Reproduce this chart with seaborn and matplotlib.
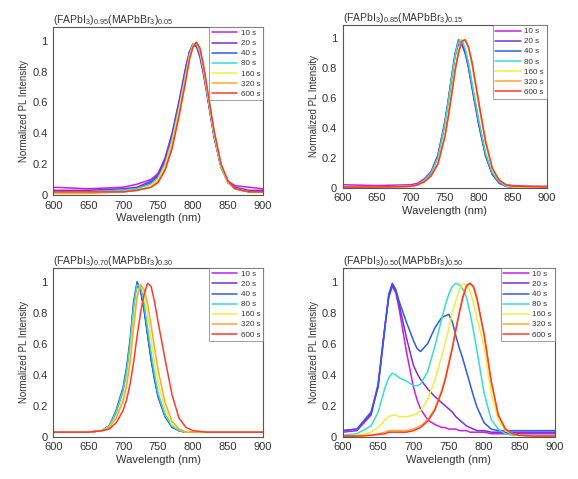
import matplotlib.pyplot as plt
import numpy as np
import pandas as pd
import seaborn as sns

# ---- data (normalized PL vs wavelength) ----
times = ["10 s", "20 s", "40 s", "80 s", "160 s", "320 s", "600 s"]
colors = ["#c81ee6", "#7a2fd8", "#2b5cf0", "#33e0c8", "#eef03c", "#ffa533", "#ff3a2a"]

titles = [
    r"(FAPbI$_3$)$_{0.95}$(MAPbBr$_3$)$_{0.05}$",
    r"(FAPbI$_3$)$_{0.85}$(MAPbBr$_3$)$_{0.15}$",
    r"(FAPbI$_3$)$_{0.70}$(MAPbBr$_3$)$_{0.30}$",
    r"(FAPbI$_3$)$_{0.50}$(MAPbBr$_3$)$_{0.50}$",
]

# panel 1: x0.05
wl_1 = [600, 650, 700, 720, 740, 750, 760, 770, 780, 790, 795, 800, 805, 810, 815, 820, 830, 840, 850, 860, 880, 900]
p1_10s = [0.05, 0.04, 0.05, 0.07, 0.10, 0.14, 0.24, 0.40, 0.61, 0.84, 0.93, 0.97, 0.96, 0.89, 0.78, 0.65, 0.38, 0.19, 0.09, 0.06, 0.05, 0.04]
p1_20s = [0.03, 0.03, 0.04, 0.05, 0.09, 0.13, 0.23, 0.39, 0.60, 0.83, 0.93, 0.98, 0.97, 0.90, 0.79, 0.66, 0.38, 0.18, 0.08, 0.05, 0.03, 0.03]
p1_40s = [0.02, 0.02, 0.03, 0.04, 0.08, 0.12, 0.21, 0.37, 0.58, 0.81, 0.92, 0.98, 0.98, 0.91, 0.80, 0.66, 0.38, 0.18, 0.08, 0.04, 0.02, 0.02]
p1_80s = [0.02, 0.02, 0.03, 0.04, 0.07, 0.11, 0.20, 0.36, 0.57, 0.80, 0.91, 0.98, 0.98, 0.92, 0.81, 0.67, 0.39, 0.18, 0.08, 0.04, 0.02, 0.02]
p1_160s = [0.02, 0.02, 0.02, 0.03, 0.06, 0.10, 0.19, 0.34, 0.55, 0.78, 0.90, 0.97, 0.99, 0.93, 0.82, 0.68, 0.40, 0.19, 0.08, 0.04, 0.02, 0.02]
p1_320s = [0.01, 0.01, 0.02, 0.03, 0.05, 0.09, 0.17, 0.32, 0.53, 0.77, 0.89, 0.97, 0.99, 0.94, 0.83, 0.69, 0.41, 0.20, 0.08, 0.04, 0.02, 0.02]
p1_600s = [0.02, 0.02, 0.02, 0.03, 0.05, 0.08, 0.16, 0.30, 0.51, 0.75, 0.88, 0.96, 0.99, 0.95, 0.84, 0.70, 0.42, 0.20, 0.09, 0.04, 0.02, 0.02]

# panel 2: x0.15
wl_2 = [600, 650, 700, 710, 720, 730, 740, 750, 755, 760, 765, 770, 775, 780, 785, 790, 800, 810, 820, 830, 840, 850, 870, 900]
p2_10s = [0.02, 0.015, 0.02, 0.03, 0.06, 0.11, 0.22, 0.44, 0.58, 0.74, 0.89, 0.98, 0.97, 0.91, 0.81, 0.68, 0.43, 0.22, 0.09, 0.04, 0.02, 0.015, 0.01, 0.01]
p2_20s = [0.005, 0.005, 0.01, 0.02, 0.05, 0.10, 0.21, 0.43, 0.57, 0.73, 0.88, 0.96, 0.96, 0.90, 0.80, 0.67, 0.42, 0.21, 0.09, 0.03, 0.01, 0.005, 0.005, 0.005]
p2_40s = [0.005, 0.005, 0.01, 0.02, 0.05, 0.10, 0.21, 0.43, 0.58, 0.74, 0.89, 0.99, 0.98, 0.92, 0.82, 0.69, 0.44, 0.22, 0.09, 0.04, 0.01, 0.005, 0.005, 0.005]
p2_80s = [0.005, 0.005, 0.01, 0.02, 0.05, 0.10, 0.20, 0.42, 0.57, 0.73, 0.88, 0.98, 0.99, 0.93, 0.83, 0.70, 0.45, 0.23, 0.10, 0.04, 0.01, 0.005, 0.005, 0.005]
p2_160s = [0.005, 0.005, 0.01, 0.02, 0.04, 0.08, 0.17, 0.36, 0.50, 0.65, 0.80, 0.92, 0.99, 0.99, 0.93, 0.82, 0.55, 0.29, 0.12, 0.05, 0.02, 0.005, 0.005, 0.005]
p2_320s = [0.005, 0.005, 0.01, 0.02, 0.04, 0.08, 0.16, 0.34, 0.47, 0.62, 0.78, 0.90, 0.98, 0.99, 0.94, 0.84, 0.57, 0.31, 0.13, 0.05, 0.02, 0.01, 0.005, 0.005]
p2_600s = [0.005, 0.005, 0.01, 0.02, 0.04, 0.08, 0.16, 0.34, 0.47, 0.62, 0.78, 0.90, 0.98, 0.99, 0.94, 0.84, 0.57, 0.31, 0.13, 0.05, 0.02, 0.01, 0.01, 0.005]

# panel 3: x0.30
wl_3 = [600, 650, 670, 680, 690, 700, 705, 710, 715, 720, 725, 730, 735, 740, 745, 750, 760, 770, 780, 790, 800, 820, 850, 900]
p3_10s = [0.03, 0.03, 0.04, 0.07, 0.16, 0.30, 0.42, 0.60, 0.84, 0.99, 0.95, 0.83, 0.67, 0.51, 0.38, 0.27, 0.14, 0.07, 0.04, 0.03, 0.03, 0.03, 0.03, 0.03]
p3_20s = [0.03, 0.03, 0.04, 0.07, 0.16, 0.31, 0.43, 0.61, 0.85, 0.98, 0.94, 0.82, 0.66, 0.50, 0.37, 0.26, 0.13, 0.07, 0.04, 0.03, 0.03, 0.03, 0.03, 0.03]
p3_40s = [0.03, 0.03, 0.04, 0.07, 0.17, 0.32, 0.45, 0.63, 0.87, 1.00, 0.95, 0.82, 0.66, 0.50, 0.37, 0.26, 0.13, 0.06, 0.04, 0.03, 0.03, 0.03, 0.03, 0.03]
p3_80s = [0.03, 0.03, 0.04, 0.07, 0.16, 0.30, 0.42, 0.60, 0.84, 0.98, 0.97, 0.86, 0.70, 0.54, 0.40, 0.28, 0.14, 0.07, 0.04, 0.03, 0.03, 0.03, 0.03, 0.03]
p3_160s = [0.03, 0.03, 0.04, 0.06, 0.13, 0.25, 0.36, 0.52, 0.75, 0.93, 0.98, 0.93, 0.79, 0.63, 0.48, 0.35, 0.18, 0.08, 0.05, 0.03, 0.03, 0.03, 0.03, 0.03]
p3_320s = [0.03, 0.03, 0.04, 0.06, 0.12, 0.23, 0.33, 0.48, 0.70, 0.90, 0.98, 0.95, 0.86, 0.72, 0.57, 0.43, 0.22, 0.10, 0.05, 0.03, 0.03, 0.03, 0.03, 0.03]
p3_600s = [0.03, 0.03, 0.04, 0.05, 0.09, 0.17, 0.24, 0.34, 0.48, 0.65, 0.80, 0.92, 0.99, 0.97, 0.87, 0.74, 0.50, 0.27, 0.12, 0.06, 0.04, 0.03, 0.03, 0.03]

# panel 4: x0.50
wl_4 = [600, 620, 640, 650, 660, 665, 670, 675, 680, 690, 700, 705, 710, 720, 730, 740, 745,
        750, 755, 760, 765, 770, 775, 780, 785, 790, 800, 810, 820, 830, 840, 850, 870, 900]
p4_10s = [0.03, 0.04, 0.14, 0.33, 0.72, 0.90, 0.97, 0.93, 0.82, 0.55, 0.32, 0.24, 0.18, 0.11, 0.08, 0.06, 0.06,
          0.05, 0.05, 0.05, 0.04, 0.04, 0.04, 0.03, 0.03, 0.03, 0.03, 0.02, 0.02, 0.02, 0.02, 0.02, 0.02, 0.02]
p4_20s = [0.04, 0.05, 0.15, 0.34, 0.73, 0.90, 0.98, 0.94, 0.85, 0.64, 0.46, 0.41, 0.37, 0.31, 0.26, 0.22, 0.20,
          0.18, 0.16, 0.13, 0.11, 0.09, 0.07, 0.06, 0.05, 0.04, 0.04, 0.03, 0.03, 0.03, 0.03, 0.03, 0.03, 0.03]
p4_40s = [0.04, 0.05, 0.16, 0.32, 0.72, 0.92, 0.99, 0.95, 0.87, 0.74, 0.62, 0.57, 0.55, 0.60, 0.70, 0.77, 0.78,
          0.79, 0.74, 0.65, 0.57, 0.50, 0.42, 0.34, 0.26, 0.19, 0.09, 0.05, 0.04, 0.04, 0.04, 0.04, 0.04, 0.04]
p4_80s = [0.01, 0.02, 0.07, 0.16, 0.32, 0.38, 0.41, 0.40, 0.38, 0.36, 0.33, 0.33, 0.34, 0.42, 0.58, 0.76, 0.85,
          0.92, 0.97, 0.99, 0.98, 0.95, 0.90, 0.80, 0.68, 0.55, 0.28, 0.11, 0.05, 0.02, 0.01, 0.01, 0.01, 0.01]
p4_160s = [0.005, 0.01, 0.03, 0.06, 0.11, 0.13, 0.14, 0.14, 0.13, 0.13, 0.14, 0.15, 0.17, 0.24, 0.36, 0.52, 0.61,
           0.70, 0.80, 0.88, 0.95, 0.99, 0.98, 0.94, 0.86, 0.76, 0.58, 0.28, 0.11, 0.04, 0.02, 0.01, 0.005, 0.005]
p4_320s = [0.005, 0.005, 0.01, 0.02, 0.03, 0.04, 0.04, 0.04, 0.04, 0.04, 0.05, 0.06, 0.07, 0.11, 0.18, 0.30, 0.38,
           0.48, 0.58, 0.70, 0.81, 0.91, 0.98, 0.99, 0.96, 0.88, 0.65, 0.35, 0.14, 0.05, 0.02, 0.01, 0.005, 0.005]
p4_600s = [0.005, 0.005, 0.01, 0.015, 0.02, 0.03, 0.03, 0.03, 0.03, 0.03, 0.04, 0.05, 0.06, 0.10, 0.17, 0.29, 0.37,
           0.47, 0.57, 0.69, 0.80, 0.90, 0.97, 0.99, 0.97, 0.89, 0.66, 0.36, 0.14, 0.05, 0.02, 0.01, 0.005, 0.005]

panels = [
    (wl_1, [p1_10s, p1_20s, p1_40s, p1_80s, p1_160s, p1_320s, p1_600s]),
    (wl_2, [p2_10s, p2_20s, p2_40s, p2_80s, p2_160s, p2_320s, p2_600s]),
    (wl_3, [p3_10s, p3_20s, p3_40s, p3_80s, p3_160s, p3_320s, p3_600s]),
    (wl_4, [p4_10s, p4_20s, p4_40s, p4_80s, p4_160s, p4_320s, p4_600s]),
]

# axes rectangles in figure fractions (left, bottom, width, height)
rects = [
    (0.092, 0.593, 0.363, 0.351),
    (0.593, 0.608, 0.353, 0.340),
    (0.092, 0.088, 0.363, 0.353),
    (0.593, 0.088, 0.367, 0.353),
]

sns.set_theme(style="white")
plt.rcParams["font.family"] = ["Liberation Sans", "DejaVu Sans"]
plt.rcParams["mathtext.fontset"] = "custom"
plt.rcParams["mathtext.rm"] = "Liberation Sans"
plt.rcParams["mathtext.it"] = "Liberation Sans:italic"

text_color = "#333333"
fig = plt.figure(figsize=(5.78, 4.79), dpi=100)

for (wl, series), rect, title in zip(panels, rects, titles):
    rows = []
    for label, vals in zip(times, series):
        rows.append(pd.DataFrame({"wavelength": wl, "intensity": vals, "time": label}))
    df = pd.concat(rows, ignore_index=True)

    ax = fig.add_axes(rect)
    sns.lineplot(
        data=df,
        x="wavelength",
        y="intensity",
        hue="time",
        hue_order=times,
        palette=colors,
        estimator=None,
        sort=False,
        linewidth=1.1,
        ax=ax,
    )
    ax.set_xlim(600, 900)
    ax.set_ylim(0, 1.09)
    ax.set_xticks(np.arange(600, 901, 50))
    ax.set_yticks([0, 0.2, 0.4, 0.6, 0.8, 1.0])
    ax.set_yticklabels(["0", "0.2", "0.4", "0.6", "0.8", "1"])
    ax.tick_params(direction="in", length=2, width=0.6, labelsize=8,
                   colors=text_color)
    ax.tick_params(axis="x", pad=4)
    ax.tick_params(axis="y", pad=4)
    ax.set_xlabel("Wavelength (nm)", fontsize=8, color=text_color, labelpad=2)
    ax.set_ylabel("Normalized PL Intensity", fontsize=7, color=text_color, labelpad=2)
    ax.set_title(title, loc="left", fontsize=7.5, color=text_color, pad=3)
    for sp in ax.spines.values():
        sp.set_color("#555555")
        sp.set_linewidth(0.8)

    leg = ax.legend(
        loc="upper right",
        fontsize=5.8,
        frameon=True,
        fancybox=False,
        handlelength=3.2,
        handletextpad=0.4,
        labelspacing=0.3,
        borderpad=0.35,
        borderaxespad=0.0,
    )
    leg.get_frame().set_edgecolor("#777777")
    leg.get_frame().set_linewidth(0.6)
    for t in leg.get_texts():
        t.set_color(text_color)

fig.savefig("out.png", dpi=100)
